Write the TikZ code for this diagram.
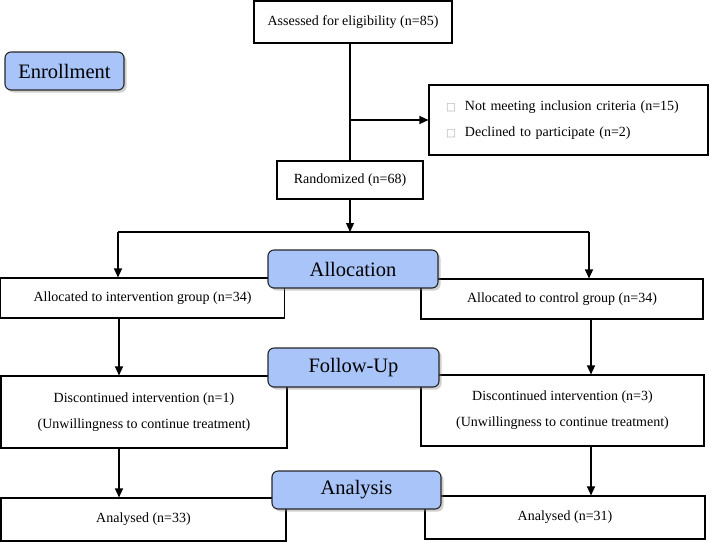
\documentclass[tikz,border=0pt]{standalone}
\usepackage{fontspec}
\setmainfont{Liberation Serif}
\newfontfamily\dejavu{DejaVu Sans}
\newfontfamily\stagefont{Liberation Serif}
\usepackage{tikz}
\usetikzlibrary{
    arrows.meta,
    shadows
}
\definecolor{stageblue}{RGB}{168,196,248}
\definecolor{shadowgray}{RGB}{120,120,120}
\newcommand{\sqbullet}{{\color{black!30}\dejavu\fontsize{10.5}{10}\selectfont □}\hspace{9pt}}
\tikzset{
    % Box styles
    flow box/.style={
        draw=black,
        fill=white,
        line width=1.1pt,
        rectangle,
        inner sep=0pt,
        align=center,
        font=\rmfamily\fontsize{14}{26}\selectfont
    },
    stage box/.style={
        draw=black!85,
        fill=stageblue,
        line width=1.1pt,
        rectangle,
        rounded corners=6pt,
        inner sep=0pt,
        font=\stagefont\fontsize{20.5}{24}\selectfont,
        drop shadow={shadow xshift=2.5pt, shadow yshift=-2.5pt, opacity=0.35, fill=shadowgray}
    },
    % Arrow styles
    flow arrow/.style={
        -{Triangle[length=9pt,width=8pt]},
        line width=1.1pt,
        black
    },
    flow line/.style={
        line width=1.1pt,
        black
    }
}

\begin{document}
\begin{tikzpicture}[x=1pt, y=-1pt]
        \useasboundingbox (0,0) rectangle (709,542);

        % Nodes
        \node[flow box, minimum width=198pt, minimum height=42pt] (assess) at (353,22) {Assessed for eligibility (n=85)};
        \node[flow box, minimum width=279pt, minimum height=70pt, text width=245pt, align=left] (excl) at (568.5,120)
            {\sqbullet Not meeting inclusion criteria (n=15)\\ \sqbullet Declined to participate (n=2)};
        \node[flow box, minimum width=146pt, minimum height=38pt] (rand) at (350,180) {Randomized (n=68)};

        \node[flow box, minimum width=284pt, minimum height=40pt] (alloc int) at (142.5,298) {Allocated to intervention group (n=34)};
        \node[flow box, minimum width=282pt, minimum height=40pt] (alloc ctl) at (562,299) {Allocated to control group (n=34)};

        \node[flow box, minimum width=286pt, minimum height=72pt] (disc int) at (144,412)
            {Discontinued intervention (n=1)\\(Unwillingness to continue treatment)};
        \node[flow box, minimum width=283pt, minimum height=71pt] (disc ctl) at (562.5,410.5)
            {Discontinued intervention (n=3)\\(Unwillingness to continue treatment)};

        \node[flow box, minimum width=285pt, minimum height=43pt] (anal int) at (143.5,519.5) {Analysed (n=33)};
        \node[flow box, minimum width=280pt, minimum height=43pt] (anal ctl) at (565,517.5) {Analysed (n=31)};

        % Stage labels
        \node[stage box, minimum width=119pt, minimum height=38pt] (enroll) at (64.5,71) {Enrollment};
        \node[stage box, minimum width=170pt, minimum height=38pt] (allocation) at (353,269) {Allocation};
        \node[stage box, minimum width=171pt, minimum height=39pt] (followup) at (353.5,367.5) {Follow-Up};
        \node[stage box, minimum width=169pt, minimum height=38pt] (analysis) at (356.5,490) {Analysis};

        % Split points
        \coordinate (split) at (350,232);
        \coordinate (split left) at (118,232);
        \coordinate (split right) at (589,232);
        \coordinate (left lane) at (119,0);
        \coordinate (right lane) at (591,0);

        % Edges
        \draw[flow line] (rand.north |- assess.south) -- (rand.north);
        \draw[flow arrow] (rand.north |- excl.west) -- (excl.west);
        \draw[flow arrow] (rand.south) -- (split);
        \draw[flow line] (split left) -- (split right);
        \draw[flow arrow] (split left) -- (split left |- alloc int.north);
        \draw[flow arrow] (split right) -- (split right |- alloc ctl.north);
        \draw[flow arrow] (left lane |- alloc int.south) -- (left lane |- disc int.north);
        \draw[flow arrow] (right lane |- alloc ctl.south) -- (right lane |- disc ctl.north);
        \draw[flow arrow] (left lane |- disc int.south) -- (left lane |- anal int.north);
        \draw[flow arrow] (right lane |- disc ctl.south) -- (right lane |- anal ctl.north);
    \end{tikzpicture}
\end{document}
